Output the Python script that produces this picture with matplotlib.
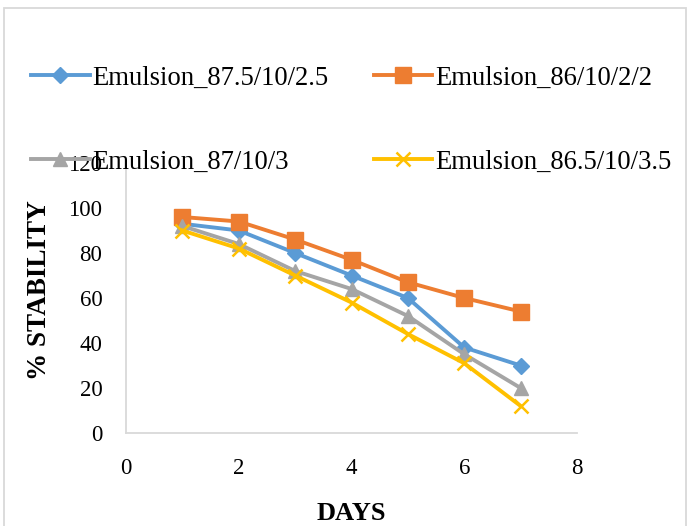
import matplotlib
matplotlib.use("Agg")
import matplotlib.pyplot as plt
from matplotlib.patches import Rectangle

plt.rcParams["font.family"] = ["Liberation Serif", "DejaVu Serif"]

# Data
days = [1, 2, 3, 4, 5, 6, 7]
emul_875 = [93, 90, 80, 70, 60, 38, 30]
emul_86 = [96, 94, 86, 77, 67, 60, 54]
emul_87 = [92, 84, 72, 64, 52, 35, 20]
emul_865 = [90, 82, 70, 58, 44, 31, 12]

labels = [
    "Emulsion_87.5/10/2.5",
    "Emulsion_86/10/2/2",
    "Emulsion_87/10/3",
    "Emulsion_86.5/10/3.5",
]
x_ticks = [0, 2, 4, 6, 8]
y_ticks = [0, 20, 40, 60, 80, 100, 120]

fig = plt.figure(figsize=(6.89, 5.26), dpi=100)
ax = fig.add_axes([0.1829, 0.1768, 0.6546, 0.5133])

lw = 2.8
h1, = ax.plot(days, emul_875, color="#5B9BD5", lw=lw, marker="D", ms=8.5,
              label=labels[0])
h2, = ax.plot(days, emul_86, color="#ED7D31", lw=lw, marker="s", ms=11,
              label=labels[1])
h3, = ax.plot(days, emul_87, color="#A5A5A5", lw=lw, marker="^", ms=10.5,
              label=labels[2])
h4, = ax.plot(days, emul_865, color="#FFC000", lw=lw, marker="x", ms=10.5,
              mew=1.8, label=labels[3])

ax.set_xlim(0, 8)
ax.set_ylim(0, 120)
ax.set_xticks(x_ticks)
ax.set_yticks(y_ticks)
ax.tick_params(length=0, labelsize=16.5)
ax.tick_params(axis="y", pad=17)
ax.tick_params(axis="x", pad=18)
for s in ["top", "right"]:
    ax.spines[s].set_visible(False)
for s in ["left", "bottom"]:
    ax.spines[s].set_color("#D9D9D9")
    ax.spines[s].set_linewidth(1.3)

ax.set_xlabel("DAYS", fontsize=19, fontweight="bold")
ax.set_ylabel("% STABILITY", fontsize=19.5, fontweight="bold")
ax.xaxis.set_label_coords(0.499, -0.255)
ax.yaxis.set_label_coords(-0.165, 0.53)

# row-wise order like the reference (matplotlib fills columns first)
fig.legend(
    [h1, h3, h2, h4],
    [labels[0], labels[2], labels[1], labels[3]],
    loc="upper left",
    bbox_to_anchor=(0.045, 0.875),
    ncol=2,
    frameon=False,
    fontsize=19.2,
    handlelength=2.2,
    handletextpad=0.1,
    columnspacing=1.7,
    labelspacing=2.2,
    borderpad=0,
    borderaxespad=0,
)

# light border around the whole chart area
fig.patches.append(Rectangle((0.006, -0.02), 0.99, 1.005, transform=fig.transFigure,
                             fill=False, edgecolor="#D9D9D9", lw=1.3))

fig.savefig("out.png", dpi=100)
